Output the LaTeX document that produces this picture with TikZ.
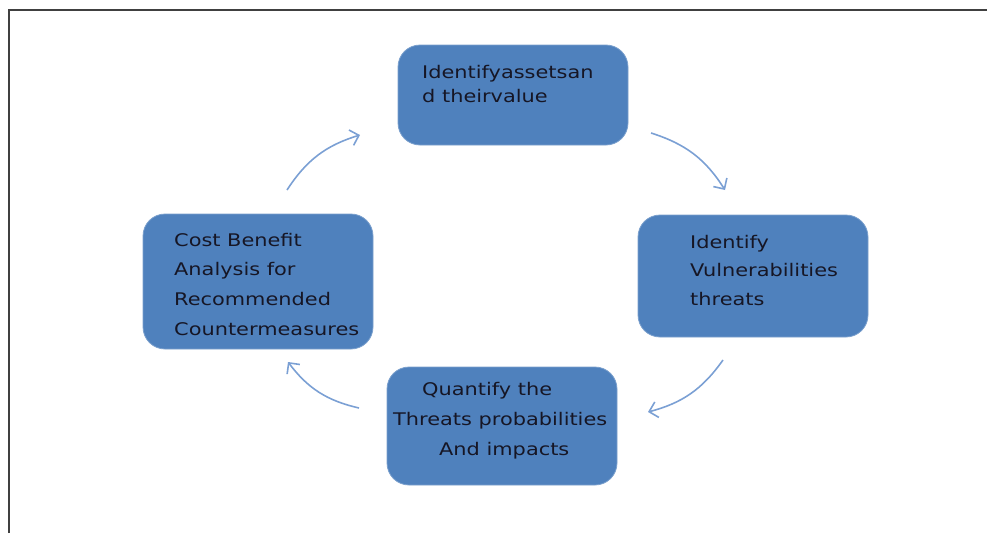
\documentclass[tikz,border=0pt]{standalone}
\usepackage{fontspec}
\setmainfont{DejaVu Sans}[FakeStretch=1.2]
\usetikzlibrary{arrows.meta}
\definecolor{boxblue}{HTML}{4F81BD}
\definecolor{arrowblue}{HTML}{7BA0D4}
\definecolor{txtdark}{HTML}{161625}
\definecolor{framegray}{HTML}{404040}
\begin{document}
\begin{tikzpicture}[x=1pt,y=-1pt,
  box/.style={fill=boxblue, draw=boxblue!75!white, line width=0.8pt, rounded corners=22pt, minimum width=230pt},
  boxtext/.style={anchor=base west, inner sep=0pt, align=left, text=txtdark},
  cyc/.style={draw=arrowblue, line width=1.6pt, -{Straight Barb[length=8pt,width=16pt]}, bend left=20}]
\useasboundingbox (0,0) rectangle (987,533);
\draw[framegray, line width=2pt] (9,533) -- (9,10) -- (987,10);

\node[box, minimum height=100pt] (top) at (513,95) {};
\node[box, minimum height=122pt] (right) at (753,276) {};
\node[box, minimum height=135pt] (left) at (258,281.5) {};
\node[box, minimum height=118pt] (bottom) at (502,426) {};

\node[boxtext, font=\fontsize{17.4}{24}\selectfont] (toptext) at (422,102) {Identifyassetsan\\d theirvalue};
\node[boxtext, font=\fontsize{17.4}{28.5}\selectfont] (righttext) at (690,305) {Identify\\Vulnerabilities\\threats};
\node[boxtext, font=\fontsize{17.4}{29.6}\selectfont] (lefttext) at (174,335) {Cost Benefit\\Analysis for\\Recommended\\Countermeasures};
\node[boxtext, font=\fontsize{17.4}{30}\selectfont] (bottomtext) at (393,455) {\hspace*{29pt}Quantify the\\Threats probabilities\\\hspace*{46pt}And impacts};

\coordinate (a1s) at (651,133);
\coordinate (a1e) at (725,190);
\coordinate (a2s) at (723,360);
\coordinate (a2e) at (648,412);
\coordinate (a3s) at (359,408);
\coordinate (a3e) at (288,362);
\coordinate (a4s) at (287,190);
\coordinate (a4e) at (360,135);
\draw[cyc] (a1s) to (a1e);
\draw[cyc] (a2s) to (a2e);
\draw[cyc] (a3s) to (a3e);
\draw[cyc] (a4s) to (a4e);
\end{tikzpicture}
\end{document}
